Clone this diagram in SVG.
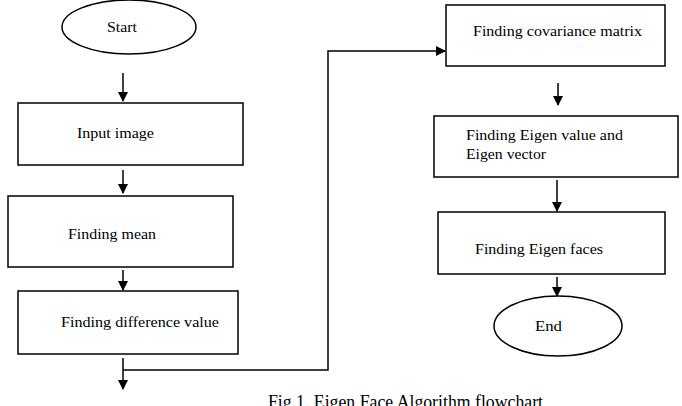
<svg xmlns="http://www.w3.org/2000/svg" width="682" height="406" viewBox="0 0 682 406">
<defs>
<marker id="ah" markerWidth="10" markerHeight="10" refX="9" refY="5" orient="auto" markerUnits="userSpaceOnUse">
<path d="M0,0 L10,5 L0,10 Z" fill="#000"/>
</marker>
<style>
.box{fill:#fff;stroke:#000;stroke-width:1.5}
.t{font-size:15px;fill:#000}
.c{fill:none;stroke:#000;stroke-width:1.5}
</style>
</defs>
<rect width="682" height="406" fill="#fff"/>
<g id="start">
<ellipse class="box" cx="129" cy="27" rx="67" ry="27"/>
<text class="t" font-family="Liberation Serif, serif" x="107" y="32" textLength="30" lengthAdjust="spacingAndGlyphs">Start</text>
</g>
<g id="input">
<rect class="box" x="18" y="103" width="225" height="62"/>
<text class="t" font-family="Liberation Serif, serif" x="77" y="138" textLength="77" lengthAdjust="spacingAndGlyphs">Input image</text>
</g>
<g id="mean">
<rect class="box" x="8" y="196" width="225" height="71"/>
<text class="t" font-family="Liberation Serif, serif" x="68" y="239" textLength="88" lengthAdjust="spacingAndGlyphs">Finding mean</text>
</g>
<g id="diff">
<rect class="box" x="18" y="291" width="220" height="63"/>
<text class="t" font-family="Liberation Serif, serif" x="61" y="327" textLength="158" lengthAdjust="spacingAndGlyphs">Finding difference value</text>
</g>
<g id="cov">
<rect class="box" x="446" y="5" width="219" height="61"/>
<text class="t" font-family="Liberation Serif, serif" x="473" y="36" textLength="169" lengthAdjust="spacingAndGlyphs">Finding covariance matrix</text>
</g>
<g id="eig">
<rect class="box" x="434" y="116" width="244" height="61"/>
<text class="t" font-family="Liberation Serif, serif" x="466" y="140" textLength="157" lengthAdjust="spacingAndGlyphs">Finding Eigen value and</text>
<text class="t" font-family="Liberation Serif, serif" x="466" y="159" textLength="80" lengthAdjust="spacingAndGlyphs">Eigen vector</text>
</g>
<g id="faces">
<rect class="box" x="438" y="212" width="227" height="62"/>
<text class="t" font-family="Liberation Serif, serif" x="475" y="254" textLength="128" lengthAdjust="spacingAndGlyphs">Finding Eigen faces</text>
</g>
<g id="end">
<ellipse class="box" cx="558" cy="326" rx="64" ry="30"/>
<text class="t" font-family="Liberation Serif, serif" x="535" y="331" textLength="27" lengthAdjust="spacingAndGlyphs">End</text>
</g>
<g id="connectors">
<line class="c" x1="123" y1="73" x2="123" y2="101" marker-end="url(#ah)"/>
<line class="c" x1="123" y1="170" x2="123" y2="193" marker-end="url(#ah)"/>
<line class="c" x1="123" y1="270" x2="123" y2="290" marker-end="url(#ah)"/>
<line class="c" x1="123" y1="358" x2="123" y2="389" marker-end="url(#ah)"/>
<polyline class="c" points="123,370 328,370 328,51 445,51" marker-end="url(#ah)"/>
<line class="c" x1="558" y1="83" x2="558" y2="105" marker-end="url(#ah)"/>
<line class="c" x1="557" y1="180" x2="557" y2="211" marker-end="url(#ah)"/>
<line class="c" x1="557" y1="277" x2="557" y2="296" marker-end="url(#ah)"/>
</g>
<text x="268" y="408" font-family="Liberation Serif, serif" font-size="18" fill="#000" textLength="275" lengthAdjust="spacingAndGlyphs">Fig.1. Eigen Face Algorithm flowchart</text>
</svg>
